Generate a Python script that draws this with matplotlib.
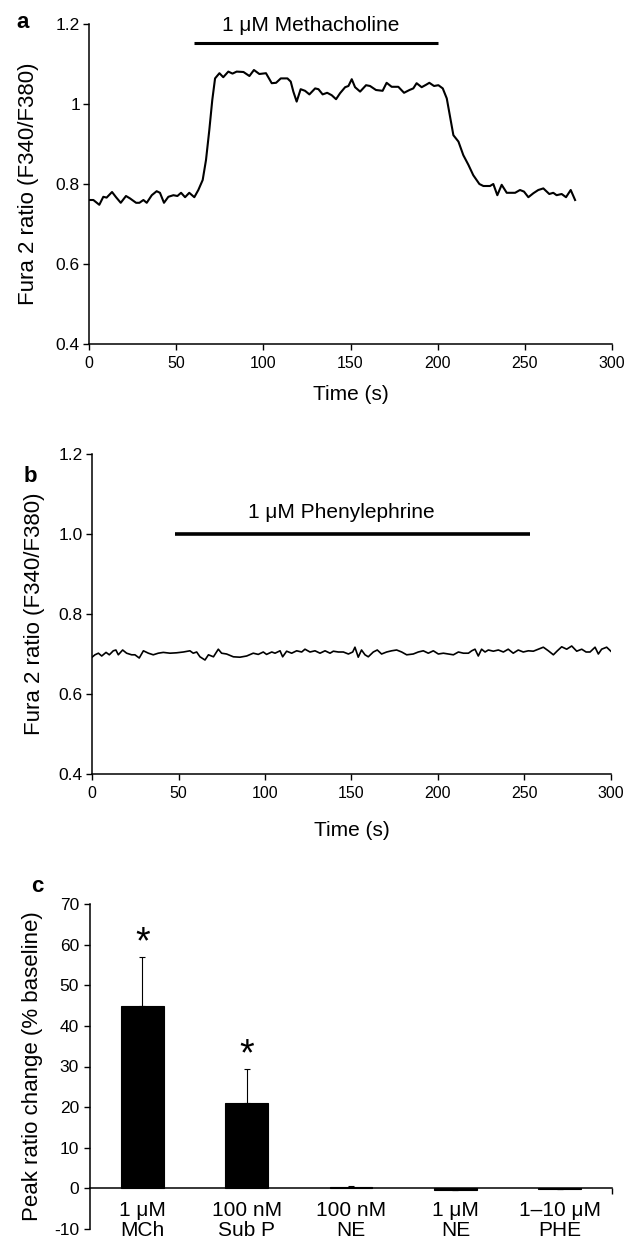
#!/usr/bin/env python3
# -*- coding: utf-8 -*-
"""
Fura 2 calcium traces (methacholine / phenylephrine) and peak ratio change summary.
Saves out.png (626x1250).
"""
import numpy as np
import matplotlib
matplotlib.use('Agg')
import matplotlib.pyplot as plt

plt.rcParams['font.family'] = ['Liberation Sans', 'DejaVu Sans']
plt.rcParams['axes.unicode_minus'] = False

# ---- panel a: 1 uM methacholine trace ----
t_mch = [0, 2.5, 5.9, 8.2, 10.1, 13.2, 15.5, 18.2, 21.2, 23.5, 27, 28.9, 31.2, 33.1,
         36, 38.8, 40.7, 43, 45.5, 48.4, 50.7, 52.8, 55.1, 57.5, 60.4, 62.7, 65.2,
         67.1, 69, 70.7, 72.3, 74.8, 77, 79.9, 82.3, 84.7, 88.6, 92, 94.6, 97.7,
         101.5, 104.8, 107.3, 110, 113.8, 115.7, 117.2, 119.1, 121.4, 123.9, 126.4,
         129.7, 131.6, 134, 136.6, 139.2, 141.7, 144, 146.9, 148.8, 150.7, 152.6,
         155.5, 158.9, 161.2, 164.6, 168.4, 170.7, 173.6, 177.4, 180.7, 183.8, 186,
         187.9, 190.8, 193.3, 195.2, 197.9, 200.4, 202.9, 205.2, 207.1, 209, 211.9,
         214.7, 217.6, 220.4, 223.9, 226.2, 230, 231.9, 234.2, 236.7, 239.6, 242.4,
         244.4, 247.2, 249.5, 252, 254.9, 257.7, 260.6, 264, 266.3, 268.2, 271.1,
         273.6, 276.3, 278.8]
r_mch = [0.760, 0.760, 0.748, 0.768, 0.766, 0.780, 0.767, 0.753, 0.770, 0.764, 0.753,
         0.753, 0.760, 0.753, 0.772, 0.782, 0.778, 0.753, 0.768, 0.772, 0.770, 0.778,
         0.767, 0.778, 0.767, 0.785, 0.810, 0.860, 0.935, 1.010, 1.064, 1.077, 1.067,
         1.081, 1.076, 1.081, 1.080, 1.070, 1.085, 1.075, 1.077, 1.052, 1.053, 1.064,
         1.064, 1.056, 1.031, 1.006, 1.037, 1.033, 1.024, 1.039, 1.037, 1.024, 1.028,
         1.022, 1.012, 1.027, 1.042, 1.045, 1.062, 1.042, 1.031, 1.047, 1.045, 1.035,
         1.033, 1.053, 1.043, 1.043, 1.028, 1.035, 1.039, 1.052, 1.042, 1.048, 1.053,
         1.045, 1.047, 1.039, 1.014, 0.968, 0.922, 0.906, 0.872, 0.848, 0.822, 0.800,
         0.795, 0.795, 0.800, 0.772, 0.798, 0.778, 0.778, 0.778, 0.785, 0.781, 0.767,
         0.777, 0.785, 0.789, 0.775, 0.778, 0.772, 0.775, 0.767, 0.785, 0.760]
mch_on, mch_off, mch_bar_y = 60, 200, 1.152

# ---- panel b: 1 uM phenylephrine trace ----
t_phe = [0, 1.7, 3.7, 5.6, 8.1, 10, 12.3, 13.8, 15.2, 17.7, 20, 22.9, 24.8, 27.3, 29.7,
         32.6, 35.4, 38.3, 41.2, 45.1, 48.9, 52.8, 56.6, 58.5, 60.5, 62.4, 65.3, 67.3,
         70.2, 73, 74.9, 77.8, 81.7, 85.5, 89.4, 93.2, 96.1, 99, 100.9, 103.9, 105.8,
         108.7, 110.2, 112.5, 115.4, 118.3, 121.2, 123.1, 126, 128.9, 131.8, 134.7,
         137.6, 139.5, 142.4, 145.3, 148.2, 150.7, 152, 153.9, 155.8, 157.8, 159.7,
         162.6, 164.9, 167.4, 170.3, 173.2, 176.1, 179, 181.9, 185.7, 188.6, 191.5,
         194.4, 197.3, 200.2, 203.1, 206, 208.9, 211.8, 214.7, 217.6, 219.5, 221.4,
         223.3, 225.2, 227.2, 229.1, 232, 234.9, 237.8, 240.6, 243.5, 246.4, 249.3,
         252.2, 255.1, 258, 260.9, 263.8, 266.7, 269, 271.5, 274.4, 277.3, 280.2,
         283.1, 285.6, 287.9, 290.8, 292.7, 294.6, 297.5, 300.4]
r_phe = [0.692, 0.698, 0.702, 0.695, 0.704, 0.698, 0.708, 0.710, 0.698, 0.710, 0.702,
         0.698, 0.698, 0.690, 0.708, 0.702, 0.698, 0.702, 0.704, 0.702, 0.703, 0.705,
         0.708, 0.702, 0.705, 0.693, 0.685, 0.698, 0.693, 0.712, 0.702, 0.700, 0.693,
         0.692, 0.695, 0.702, 0.699, 0.705, 0.699, 0.705, 0.702, 0.708, 0.693, 0.707,
         0.702, 0.708, 0.705, 0.712, 0.705, 0.708, 0.702, 0.708, 0.702, 0.707, 0.705,
         0.705, 0.700, 0.705, 0.717, 0.692, 0.710, 0.698, 0.693, 0.705, 0.710, 0.700,
         0.705, 0.708, 0.710, 0.705, 0.698, 0.700, 0.705, 0.708, 0.702, 0.708, 0.700,
         0.702, 0.700, 0.698, 0.705, 0.702, 0.702, 0.708, 0.712, 0.695, 0.712, 0.705,
         0.710, 0.707, 0.710, 0.705, 0.712, 0.702, 0.710, 0.705, 0.708, 0.707, 0.712,
         0.717, 0.708, 0.698, 0.708, 0.718, 0.712, 0.720, 0.707, 0.712, 0.705, 0.705,
         0.717, 0.700, 0.712, 0.717, 0.705]
phe_on, phe_off, phe_bar_y = 48, 253, 1.0

# ---- panel c: peak ratio change ----
agonists = ['1 \u03bcM\nMCh', '100 nM\nSub P', '100 nM\nNE', '1 \u03bcM\nNE',
            '1\u201310 \u03bcM\nPHE']
peak_change = [45, 21, 0.4, -0.3, -0.1]
peak_err = [12, 8.5, 0.2, 0, 0]
signif = [True, True, False, False, False]

XTICK_FS = 11.5
YTICK_FS = 12.5
LAB_FS = 15
YLAB_FS = 16


def style_trace_axes(ax, xlabelpad, ylabelpad):
    for s in ('top', 'right'):
        ax.spines[s].set_visible(False)
    for s in ('left', 'bottom'):
        ax.spines[s].set_linewidth(1.1)
    ax.tick_params(direction='out', length=4, width=1.0)
    ax.tick_params(axis='x', pad=5, labelsize=XTICK_FS)
    ax.tick_params(axis='y', pad=2.5, labelsize=YTICK_FS)
    ax.set_xlim(0, 300)
    ax.set_ylim(0.4, 1.2)
    ax.set_xticks(np.arange(0, 301, 50))
    ax.set_yticks([0.4, 0.6, 0.8, 1.0, 1.2])
    ax.set_xlabel('Time (s)', fontsize=LAB_FS, labelpad=xlabelpad)
    ax.set_ylabel('Fura 2 ratio (F340/F380)', fontsize=YLAB_FS, labelpad=ylabelpad)


fig = plt.figure(figsize=(6.26, 12.5), dpi=100)

# a
ax_a = fig.add_axes([0.1422, 0.7248, 0.8355, 0.256])
ax_a.plot(t_mch, r_mch, color='black', lw=1.5)
ax_a.plot([mch_on, mch_off], [mch_bar_y, mch_bar_y], color='black', lw=2.2,
          solid_capstyle='butt', clip_on=False)
ax_a.text(127, 1.197, '1 \u03bcM Methacholine', ha='center', va='center',
          fontsize=LAB_FS)
style_trace_axes(ax_a, 10, 12)
ax_a.set_yticklabels(['0.4', '0.6', '0.8', '1', '1.2'])
fig.text(23 / 626, 1 - 23 / 1250, 'a', fontsize=16, fontweight='bold',
         ha='center', va='center')

# b
ax_b = fig.add_axes([0.147, 0.3808, 0.829, 0.256])
ax_b.plot(t_phe, r_phe, color='black', lw=1.2)
ax_b.plot([phe_on, phe_off], [phe_bar_y, phe_bar_y], color='black', lw=2.6,
          solid_capstyle='butt')
ax_b.text(144, 1.055, '1 \u03bcM Phenylephrine', ha='center', va='center',
          fontsize=LAB_FS)
style_trace_axes(ax_b, 14, 10)
ax_b.set_yticklabels(['0.4', '0.6', '0.8', '1.0', '1.2'])
fig.text(30 / 626, 1 - 477 / 1250, 'b', fontsize=16, fontweight='bold',
         ha='center', va='center')

# c
ax_c = fig.add_axes([0.1438, 0.0168, 0.834, 0.26])
x = np.arange(len(agonists))
ax_c.bar(x, peak_change, width=0.41, color='black', edgecolor='black', lw=0.8)
ax_c.errorbar(x, peak_change, yerr=[np.zeros(len(x)), peak_err], fmt='none',
              ecolor='black', elinewidth=0.8, capsize=2.5, capthick=0.8)
for xi, v, e, s in zip(x, peak_change, peak_err, signif):
    if s:
        ax_c.text(xi, v + e - 1.2, '*', ha='center', va='bottom', fontsize=27)
ax_c.set_xlim(-0.5, len(agonists) - 0.5)
ax_c.set_ylim(-10, 70)
ax_c.set_yticks(np.arange(-10, 71, 10))
for s in ('top', 'right'):
    ax_c.spines[s].set_visible(False)
ax_c.spines['left'].set_linewidth(1.1)
ax_c.spines['bottom'].set_linewidth(1.1)
ax_c.spines['bottom'].set_position(('data', 0))
ax_c.set_xticks(x)
ax_c.set_xticklabels(agonists, fontsize=LAB_FS, linespacing=1.1)
ax_c.tick_params(axis='x', length=0, pad=9)
ax_c.set_xticks([len(agonists) - 0.5], minor=True)
ax_c.tick_params(axis='x', which='minor', direction='out', length=4, width=1.0)
ax_c.tick_params(axis='y', direction='out', length=4, width=1.0,
                 labelsize=YTICK_FS, pad=4)
ax_c.set_ylabel('Peak ratio change (% baseline)', fontsize=16, labelpad=8)
fig.text(37 / 626, 1 - 886 / 1250, 'c', fontsize=16, fontweight='bold',
         ha='center', va='center')

fig.savefig('out.png', dpi=100)
plt.close(fig)
